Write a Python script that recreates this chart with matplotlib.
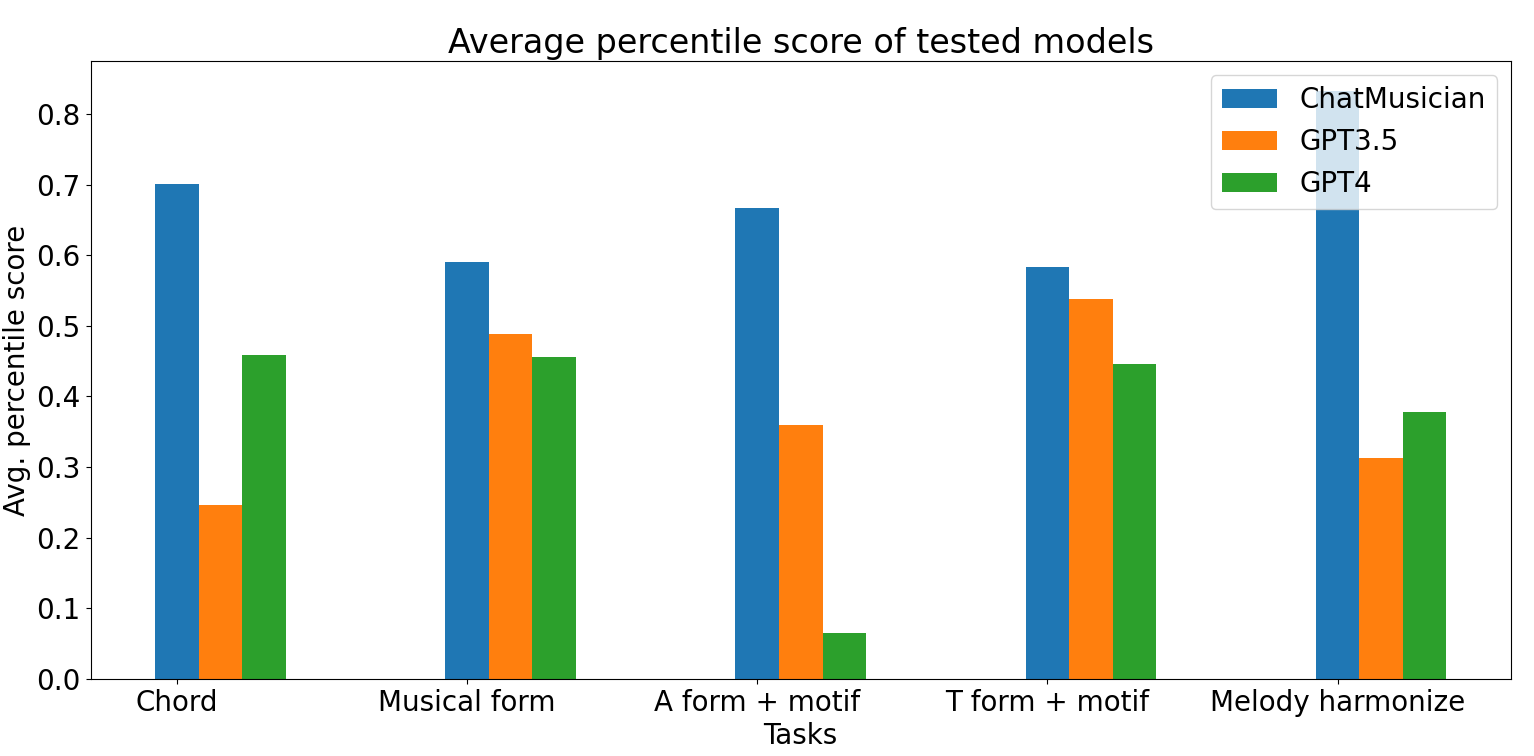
import numpy as np
import matplotlib.pyplot as plt

tasks = ['Chord', 'Musical form', 'A form + motif', 'T form + motif', 'Melody harmonize']
chatmusician = [0.701, 0.590, 0.667, 0.583, 0.833]
gpt35 = [0.246, 0.488, 0.360, 0.538, 0.313]
gpt4 = [0.459, 0.456, 0.065, 0.446, 0.378]

x = np.arange(len(tasks))
width = 0.15

fig, ax = plt.subplots(figsize=(15.34, 7.56), dpi=100)
ax.bar(x, chatmusician, width, label='ChatMusician')
ax.bar(x + width, gpt35, width, label='GPT3.5')
ax.bar(x + 2 * width, gpt4, width, label='GPT4')

ax.set_title('Average percentile score of tested models', fontsize=24)
ax.set_xlabel('Tasks', fontsize=20, labelpad=4)
ax.set_ylabel('Avg. percentile score', fontsize=20)
ax.set_xticks(x)
ax.set_xticklabels(tasks)
ax.tick_params(labelsize=20)
ax.legend(fontsize=20, loc='upper right')

plt.subplots_adjust(left=0.059, right=0.985, top=0.919, bottom=0.102)
plt.savefig('out.png')
